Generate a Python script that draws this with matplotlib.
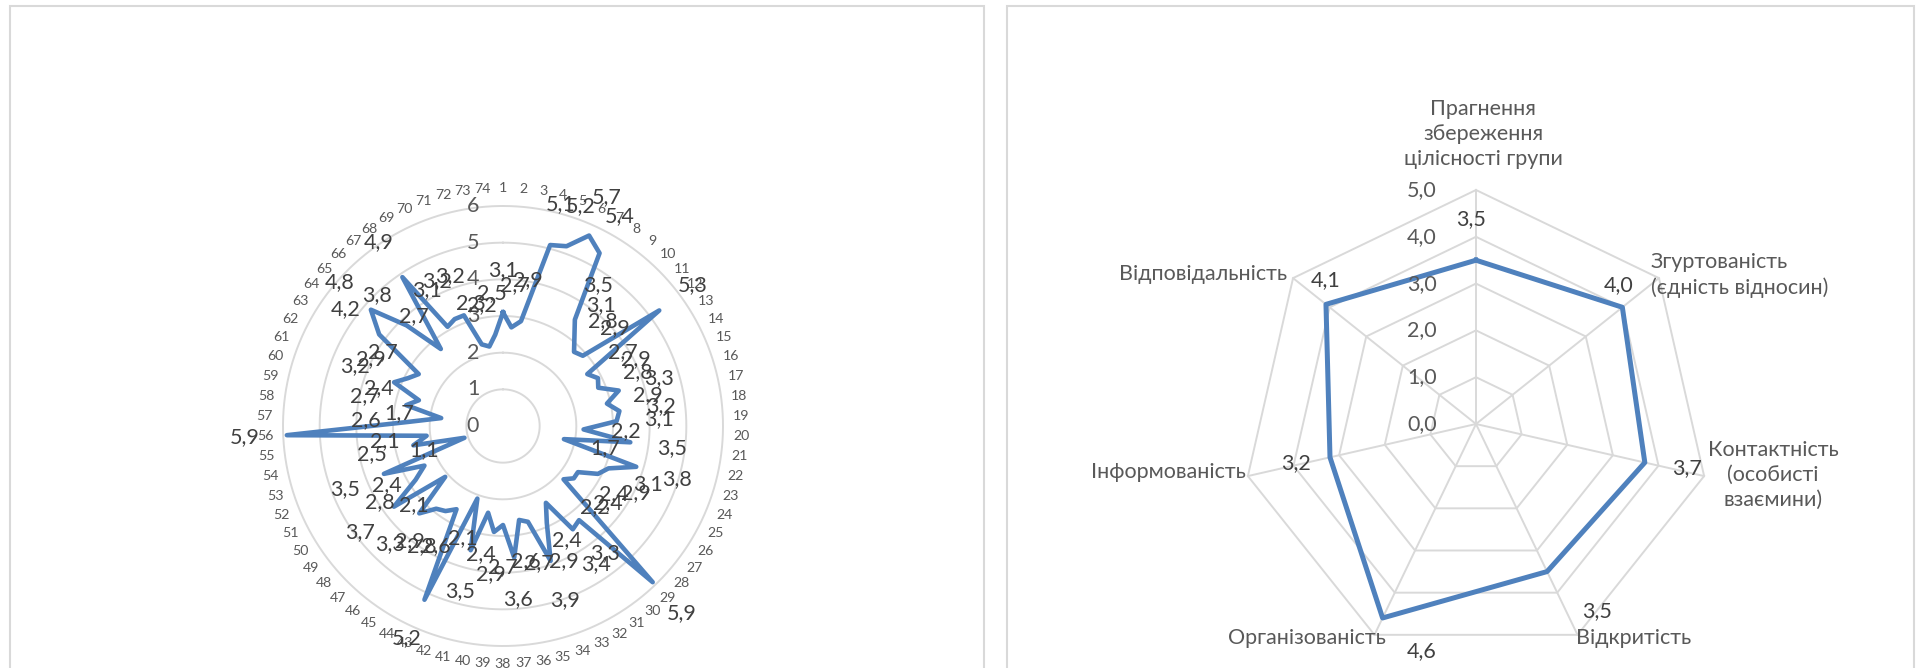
import numpy as np
import matplotlib.pyplot as plt
from matplotlib.patches import Rectangle
from matplotlib.transforms import offset_copy

plt.rcParams['font.family'] = ['Lato', 'DejaVu Sans']

W, H = 1921, 668

# respondents 1..74 (left radar)
resp_names = [str(i) for i in range(1, 75)]
resp_values = [3.1, 2.7, 2.9, 5.1, 5.2, 5.7, 5.4, 3.5, 3.1, 2.8,
               2.9, 5.3, 2.7, 2.9, 2.8, 3.3, 2.9, 3.2, 3.1, 2.2,
               3.5, 1.7, 3.8, 3.1, 2.9, 2.4, 2.4, 2.2, 5.9, 3.3,
               3.4, 2.4, 2.9, 3.9, 2.7, 2.6, 3.6, 2.7, 2.9, 2.4,
               3.5, 2.1, 5.2, 2.6, 2.8, 2.9, 3.3, 2.1, 3.7, 2.8,
               2.4, 3.5, 1.1, 2.5, 2.1, 5.9, 2.6, 1.7, 2.7, 2.4,
               3.2, 2.9, 2.7, 4.2, 4.8, 3.8, 2.7, 4.9, 3.1, 3.2,
               3.2, 2.3, 2.2, 2.5]
resp_ticks = [0, 1, 2, 3, 4, 5, 6]

# group characteristics (right radar)
traits = ['Прагнення\nзбереження\nцілісності групи',
          'Згуртованість\n(єдність відносин)',
          'Контактність\n(особисті\nвзаємини)',
          'Відкритість',
          'Організованість',
          'Інформованість',
          'Відповідальність']
trait_values = [3.5, 4.0, 3.7, 3.5, 4.6, 3.2, 4.1]
trait_ticks = [0, 1, 2, 3, 4, 5]

BLUE = '#4f81bd'
GRID = '#d9d9d9'
GREY = '#595959'
DARK = '#404040'
FS = 15.5


def fmt(v):
    return f'{v:.1f}'.replace('.', ',')


def px_box(cx, cy, r):
    return [(cx - r) / W, (H - cy - r) / H, 2 * r / W, 2 * r / H]


def radar(ax, rmax):
    ax.set_theta_zero_location('N')
    ax.set_theta_direction(-1)
    ax.set_ylim(0, rmax)
    ax.grid(False)
    ax.set_xticks([])
    ax.set_yticks([])
    ax.spines['polar'].set_visible(False)
    ax.patch.set_alpha(0)


fig = plt.figure(figsize=(W / 100, H / 100), dpi=100)

# chart frames
for x0, x1 in [(10, 984), (1007, 1914)]:
    fig.patches.append(Rectangle((x0 / W, -0.1), (x1 - x0) / W, (H - 6) / H + 0.1,
                                 transform=fig.transFigure, fill=False,
                                 edgecolor=GRID, lw=1.5))

# ---- left: 74 respondents ----
ax = fig.add_axes(px_box(503, 426, 220), projection='polar')
radar(ax, 6)
n = len(resp_values)
theta = np.arange(n) * 2 * np.pi / n
circle = np.linspace(0, 2 * np.pi, 400)
for v in resp_ticks[1:]:
    ax.plot(circle, np.full_like(circle, v), color=GRID, lw=1.4, zorder=1, clip_on=False)
ax.plot(np.append(theta, theta[0]), resp_values + resp_values[:1],
        color=BLUE, lw=3.3, zorder=3, clip_on=False)

tick_tr = offset_copy(ax.transData, fig=fig, x=-30, y=0, units='dots')
for v in resp_ticks:
    ax.text(0, v, str(v), transform=tick_tr, ha='center', va='center',
            fontsize=FS, color=GREY)
for t, name in zip(theta, resp_names):
    ax.text(t, 6.5, name, ha='center', va='center', fontsize=10.2, color=GREY)
for t, v in zip(theta, resp_values):
    ax.text(t, v + 1.15, fmt(v), ha='center', va='center', fontsize=FS,
            color=DARK, zorder=4)

# ---- right: group characteristics ----
ax2 = fig.add_axes(px_box(1476, 424, 234), projection='polar')
radar(ax2, 5)
m = len(trait_values)
th2 = np.arange(m) * 2 * np.pi / m
closed = np.append(th2, th2[0])
for v in trait_ticks[1:]:
    ax2.plot(closed, [v] * (m + 1), color=GRID, lw=1.4, zorder=1, clip_on=False)
for t in th2:
    ax2.plot([t, t], [0, trait_ticks[-1]], color=GRID, lw=1.4, zorder=1, clip_on=False)
ax2.plot(closed, trait_values + trait_values[:1], color=BLUE, lw=3.6, zorder=3,
         clip_on=False)

tick_tr2 = offset_copy(ax2.transData, fig=fig, x=-54, y=0, units='dots')
for v in trait_ticks:
    ax2.text(0, v, fmt(v), transform=tick_tr2, ha='center', va='center',
             fontsize=FS, color=GREY)

# category label offsets from the outer vertex, in pixels
name_pos = [((7, 56), 'center'), ((-8, 3), 'left'), ((69, 1), 'center'),
            ((56, -3), 'center'), ((-68, -3), 'center'), ((-79, 4), 'center'),
            ((-90, 4), 'center')]
for t, name, (off, ha) in zip(th2, traits, name_pos):
    ax2.annotate(name, xy=(t, trait_ticks[-1]), xytext=off, textcoords='offset pixels',
                 ha=ha, va='center', fontsize=FS, color=GREY, linespacing=1.3)

val_off = [(-5, 41), (-4, 22), (42, -6), (50, -40), (39, -33), (-34, -6), (0, 24)]
for t, v, off in zip(th2, trait_values, val_off):
    ax2.annotate(fmt(v), xy=(t, v), xytext=off, textcoords='offset pixels',
                 ha='center', va='center', fontsize=FS, color=DARK)

fig.savefig('out.png', dpi=100)
